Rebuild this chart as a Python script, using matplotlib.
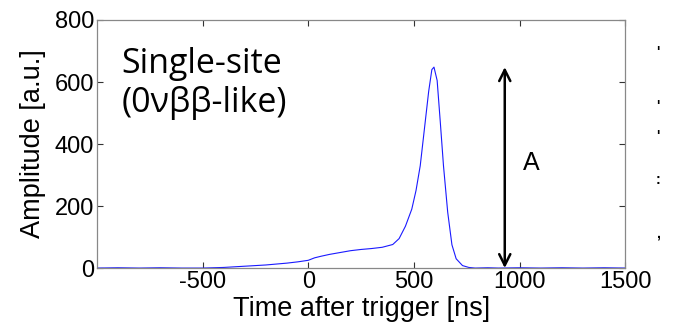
import numpy as np
import matplotlib
matplotlib.use("Agg")
import matplotlib.pyplot as plt

# pulse waveform (time [ns], amplitude [a.u.])
t_ns = [-1000, -900, -800, -700, -600, -500, -450, -400, -350, -300, -250, -200,
        -150, -100, -50, 0, 30, 60, 100, 150, 200, 250, 300, 350, 400, 430,
        460, 490, 510, 530, 550, 570, 585, 595, 610, 625, 640, 660, 680, 700,
        730, 760, 790, 850, 900, 1000, 1100, 1200, 1300, 1400, 1500]
amp = [0, 1, 0, 1, 0, 0, 1, 2, 4, 6, 8, 10,
       13, 16, 20, 25, 33, 38, 44, 50, 56, 60, 63, 67, 76, 95,
       135, 190, 250, 330, 450, 570, 640, 648, 605, 470, 330, 180, 75, 30,
       8, 2, 0, 1, 0, 1, 0, 1, 0, 1, 0]

peak_amp = max(amp)
arrow_t = 930
xticks = [-500, 0, 500, 1000, 1500]
yticks = [0, 200, 400, 600, 800]

plt.rcParams['font.family'] = ['Liberation Sans', 'DejaVu Sans']
plt.rcParams['axes.unicode_minus'] = False

fig = plt.figure(figsize=(6.73, 3.33), dpi=100)
ax = fig.add_axes([0.144, 0.195, 0.785, 0.745])

ax.plot(t_ns, amp, color='#1a1aff', lw=0.8)

ax.set_xlim(-1000, 1500)
ax.set_ylim(0, 800)
ax.set_xticks(xticks)
ax.set_yticks(yticks)
ax.tick_params(direction='in', top=True, right=True, length=4, width=0.8,
               labelsize=17, pad=2, color='#333333')
for s in ax.spines.values():
    s.set_color('#888888')
    s.set_linewidth(0.9)

ax.set_xlabel('Time after trigger [ns]', fontsize=19.5, labelpad=2)
ax.set_ylabel('Amplitude [a.u.]', fontsize=19.5, labelpad=6)

# amplitude arrow
ax.annotate('', xy=(arrow_t, peak_amp), xytext=(arrow_t, 0),
            arrowprops=dict(arrowstyle='<->', color='black', lw=1.8,
                            mutation_scale=20, shrinkA=0, shrinkB=0))
ax.text(arrow_t + 85, 340, 'A', fontsize=18, va='center', ha='left')

ax.text(0.047, 0.89, 'Single-site\n(0νββ-like)', transform=ax.transAxes,
        fontsize=24.5, family=['Open Sans', 'DejaVu Sans'], va='top', ha='left',
        linespacing=1.2)

# cropped tick labels of the neighbouring panel
for y, s in [(52, "'"), (106, "'"), (136, "'"), (180, ':'), (233, ',')]:
    fig.text(658 / 673, 1 - y / 333, s, fontsize=10, fontweight='bold',
             ha='center', va='center')

fig.savefig('out.png', dpi=100)
